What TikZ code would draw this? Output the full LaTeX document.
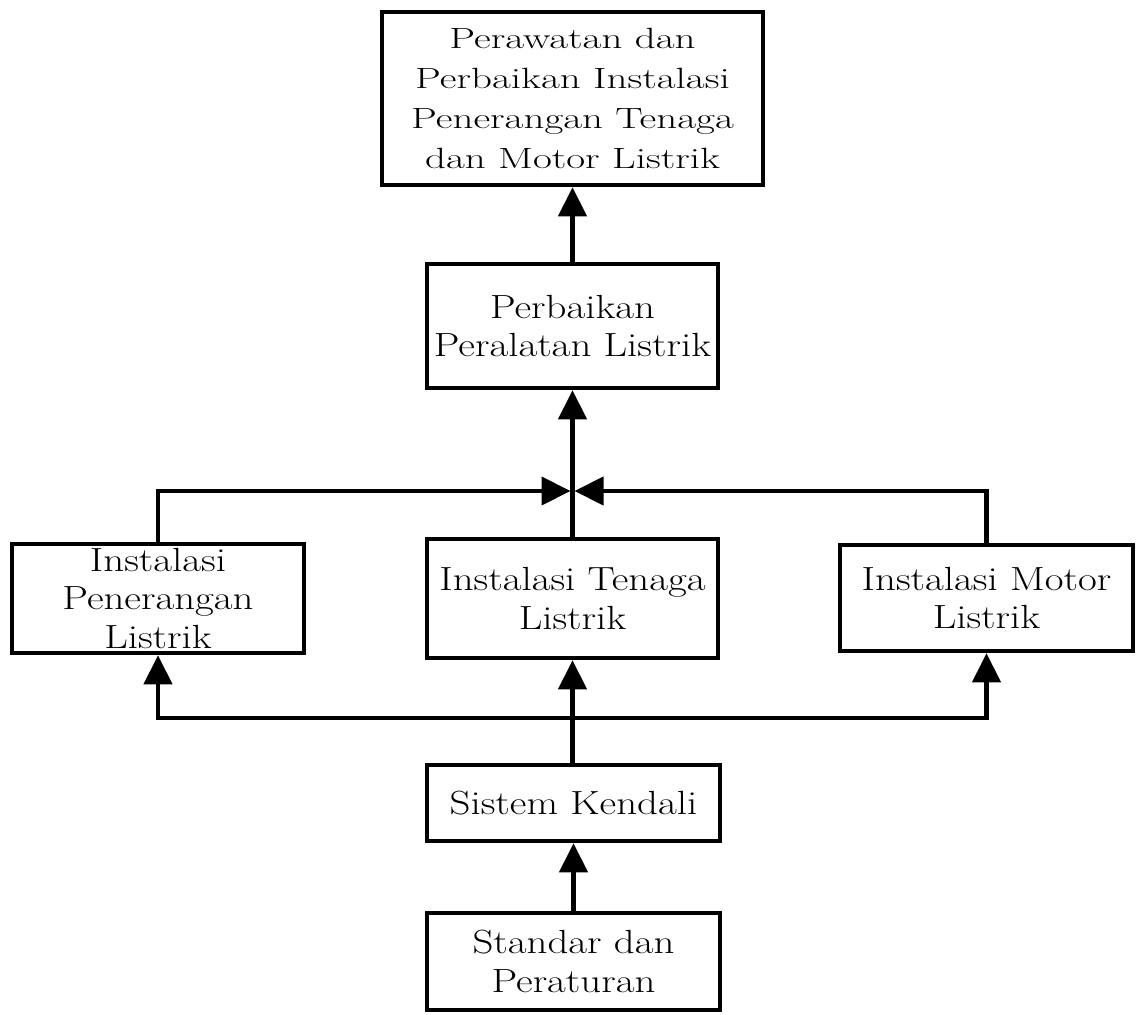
\documentclass[tikz,border=0pt]{standalone}
\usepackage{fontspec}
\newfontfamily\fa{lmroman17-regular.otf}[FakeStretch=1.40]
\newfontfamily\fb{lmroman17-regular.otf}[FakeStretch=1.22]
\usetikzlibrary{arrows.meta}
\begin{document}
\begin{tikzpicture}[x=1pt,y=-1pt,
  boxa/.style={draw,line width=4.5pt,line join=miter,inner sep=0pt,align=center,
    font=\fa\fontsize{29.3}{40}\selectfont},
  boxb/.style={draw,line width=4.5pt,line join=miter,inner sep=0pt,align=center,
    font=\fb\fontsize{33.5}{38.5}\selectfont},
  conn/.style={line width=4.2pt,line join=miter},
  tip/.tip={Triangle[width=28pt,length=29pt]}
]
\useasboundingbox (0,0) rectangle (1139,1014);
\node[boxa,minimum width=381pt,minimum height=173pt] (top) at (572.5,98.5)
  {Perawatan dan\\Perbaikan Instalasi\\Penerangan Tenaga\\dan Motor Listrik};
\node[boxb,minimum width=291pt,minimum height=124pt] (perb) at (572.5,326)
  {Perbaikan\\Peralatan Listrik};
\node[boxb,minimum width=292pt,minimum height=109pt] (pen) at (158,598.5)
  {Instalasi\\Penerangan\\Listrik};
\node[boxb,minimum width=291pt,minimum height=119pt] (ten) at (572.5,598.5)
  {Instalasi Tenaga\\Listrik};
\node[boxb,minimum width=293pt,minimum height=106pt] (mot) at (986.5,598)
  {Instalasi Motor\\Listrik};
\node[boxb,minimum width=293pt,minimum height=76pt] (sis) at (573.5,803)
  {Sistem Kendali};
\node[boxb,minimum width=293pt,minimum height=97pt] (std) at (573.5,961.5)
  {Standar dan\\Peraturan};
\coordinate (jn) at (572.5,491);
\coordinate (bus) at (572.5,718);
\draw[conn,-tip] (top.south |- perb.north) -- (top.south);
\draw[conn,-tip] (ten.north) -- (perb.south);
\draw[conn,-tip,shorten >=2pt] (pen.north) |- (jn);
\draw[conn,-tip,shorten >=2pt] (mot.north) |- (jn);
\draw[conn,-tip] (ten.south |- sis.north) -- (ten.south);
\draw[conn,tip-tip] (pen.south) -- (pen.south |- bus) -- (mot.south |- bus) -- (mot.south);
\draw[conn,-tip] (std.north) -- (sis.south);
\end{tikzpicture}
\end{document}
